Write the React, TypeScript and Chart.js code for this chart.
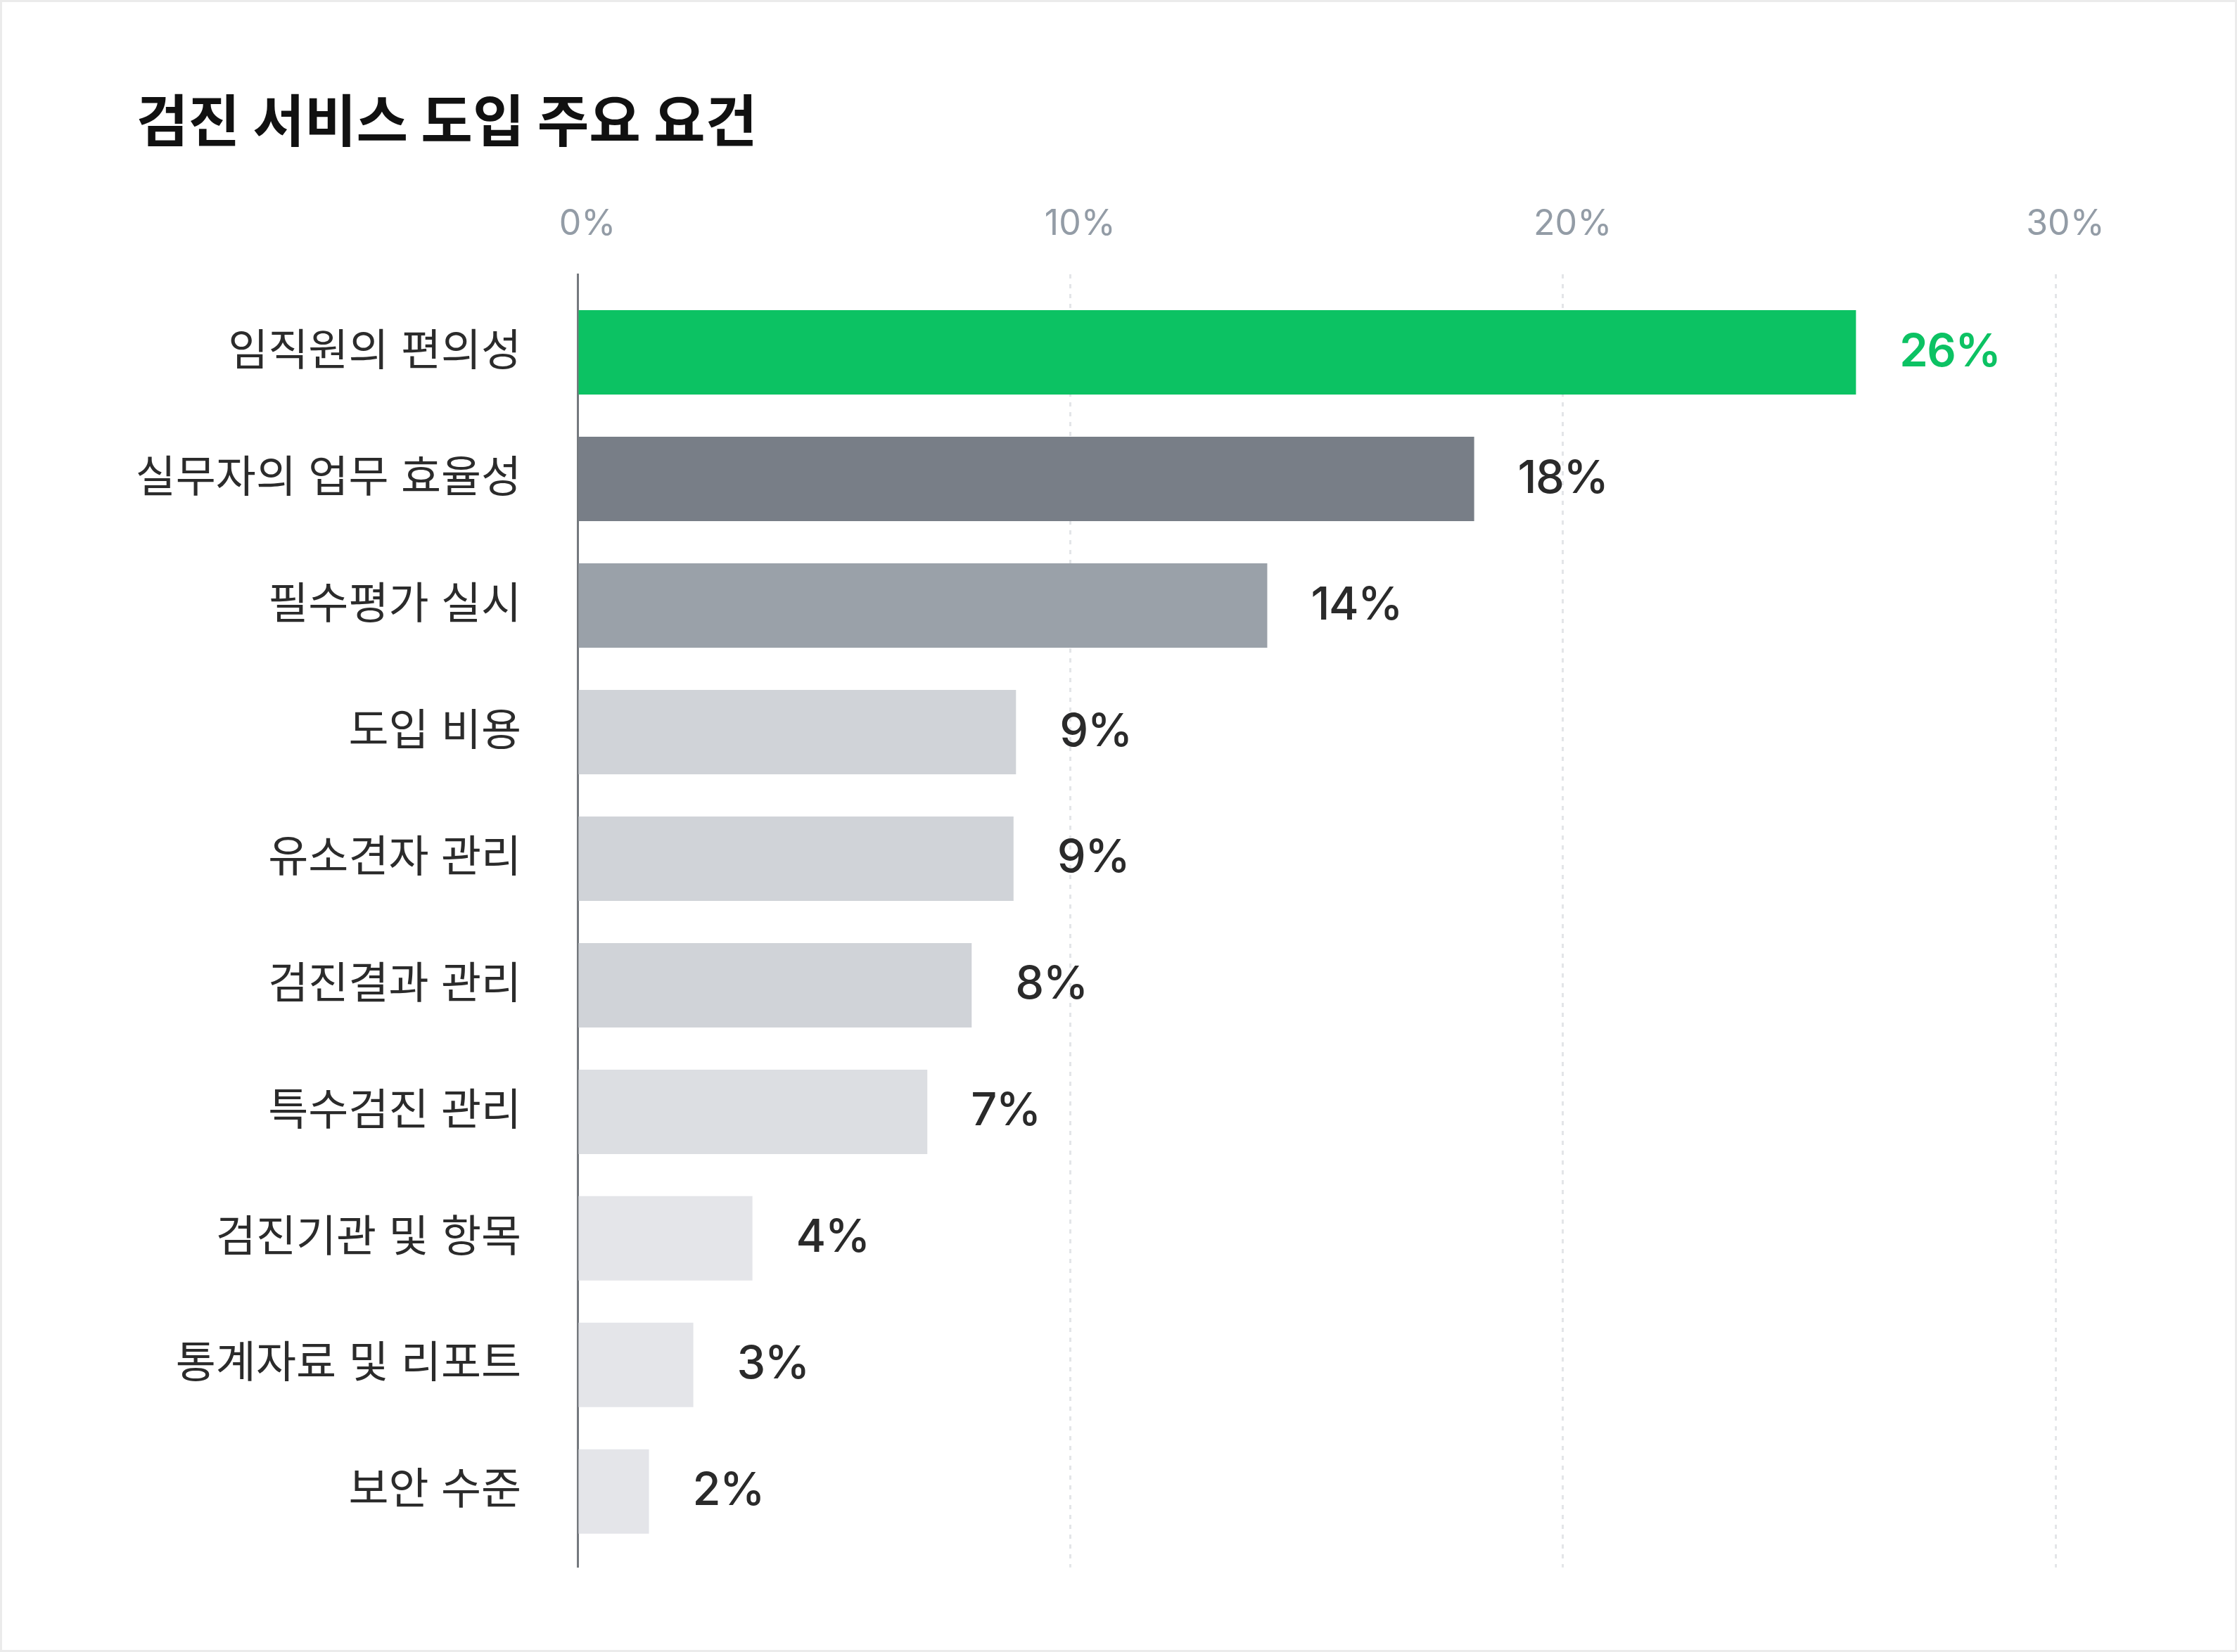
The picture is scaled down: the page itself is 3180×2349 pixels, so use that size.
import React, { useEffect, useRef } from "react";
import { Chart, registerables } from "chart.js";

Chart.register(...registerables);

const chartTitle = "검진 서비스 도입 주요 요건";
const categories = [
  "임직원의 편의성",
  "실무자의 업무 효율성",
  "필수평가 실시",
  "도입 비용",
  "유소견자 관리",
  "검진결과 관리",
  "특수검진 관리",
  "검진기관 및 항목",
  "통계자료 및 리포트",
  "보안 수준",
];
const values = [25.95, 18.2, 14.0, 8.9, 8.85, 8.0, 7.1, 3.55, 2.35, 1.45];
const valueLabels = ["26%", "18%", "14%", "9%", "9%", "8%", "7%", "4%", "3%", "2%"];
const barColors = [
  "#0cc263",
  "#787e87",
  "#9aa1a9",
  "#d0d3d8",
  "#d0d3d8",
  "#d0d3d8",
  "#dcdee2",
  "#e4e5e9",
  "#e4e5e9",
  "#e4e5e9",
];
const labelColors = [
  "#0cc263",
  "#2a2a2a",
  "#2a2a2a",
  "#2a2a2a",
  "#2a2a2a",
  "#2a2a2a",
  "#2a2a2a",
  "#2a2a2a",
  "#2a2a2a",
  "#2a2a2a",
];
const xTickValues = [0, 10, 20, 30];

const FAMILY = "Inter, 'Noto Sans CJK KR', sans-serif";

const valueLabelPlugin = {
  id: "valueLabels",
  afterDatasetsDraw(chart: any) {
    const ctx = chart.ctx;
    const meta = chart.getDatasetMeta(0);
    meta.data.forEach((bar: any, i: number) => {
      ctx.save();
      ctx.font = `${i === 0 ? 600 : 500} 65px ${FAMILY}`;
      try {
        (ctx as any).letterSpacing = "-1.5px";
      } catch (e) {}
      ctx.fillStyle = labelColors[i];
      ctx.textAlign = "left";
      ctx.textBaseline = "middle";
      ctx.fillText(valueLabels[i], bar.x + 62, bar.y);
      ctx.restore();
    });
  },
};

export default function App() {
  const canvasRef = useRef<HTMLCanvasElement | null>(null);

  useEffect(() => {
    const canvas = canvasRef.current;
    if (!canvas) return;
    const chart = new Chart(canvas, {
      type: "bar",
      data: {
        datasets: [
          {
            data: values.map((v, i) => ({ x: v, y: i })) as any,
            backgroundColor: barColors,
            borderWidth: 0,
            barPercentage: 2 / 3,
            categoryPercentage: 1,
          },
        ],
      },
      options: {
        animation: false,
        responsive: false,
        indexAxis: "y",
        layout: { padding: { left: 191, top: 0, right: 255, bottom: 116 } },
        plugins: {
          legend: { display: false },
          tooltip: { enabled: false },
          title: {
            display: true,
            text: chartTitle,
            align: "start",
            color: "#111111",
            font: { family: "'Noto Sans CJK KR', sans-serif", size: 80, weight: "700", lineHeight: 1.2 },
            padding: { top: 120, bottom: 29 },
          },
        },
        scales: {
          x: {
            type: "linear",
            position: "top",
            min: 0,
            max: 30,
            afterBuildTicks: (s: any) => {
              s.ticks = xTickValues.map((v) => ({ value: v }));
            },
            ticks: {
              callback: (v: any) => `${v}%`,
              color: "#939ca6",
              font: { family: FAMILY, size: 50, lineHeight: 1.2 },
              padding: 41,
              labelOffset: 14,
              maxRotation: 0,
              autoSkip: false,
            },
            grid: {
              drawTicks: false,
              lineWidth: 3,
              color: (ctx: any) =>
                ctx.tick && ctx.tick.value === 0 ? "rgba(0,0,0,0)" : "#e3e5e8",
            },
            border: { display: false, dash: [6, 8] },
          },
          y: {
            type: "linear",
            reverse: true,
            offset: false,
            min: -0.617,
            max: 9.6,
            afterBuildTicks: (s: any) => {
              s.ticks = categories.map((_, i) => ({ value: i }));
            },
            afterFit: (s: any) => {
              s.width = 627;
            },
            ticks: {
              callback: (v: any) => categories[v as number] ?? "",
              color: "#2b2b2b",
              font: { family: FAMILY, size: 62, lineHeight: 1.2 },
              padding: 80,
              autoSkip: false,
            },
            grid: { display: false, drawTicks: false, offset: false },
            border: { display: true, color: "#75797e", width: 3 },
          },
        },
      } as any,
      plugins: [valueLabelPlugin],
    });
    return () => chart.destroy();
  }, []);

  return (
    <div
      style={{
        position: "absolute",
        left: 0,
        top: 0,
        width: "3180px",
        height: "2349px",
        boxSizing: "border-box",
        border: "3px solid #ebebeb",
        background: "#ffffff",
        overflow: "hidden",
      }}
    >
      <canvas
        ref={canvasRef}
        width={3174}
        height={2343}
        style={{ display: "block", width: "3174px", height: "2343px" }}
      />
    </div>
  );
}
